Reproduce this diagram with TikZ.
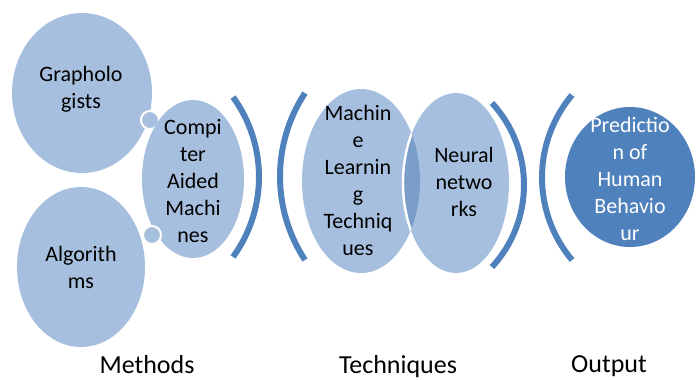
\documentclass[tikz,border=0pt]{standalone}
\usepackage{fontspec}
\setmainfont{Carlito}
\usetikzlibrary{shapes.geometric}
\definecolor{lightb}{RGB}{167,191,222}
\definecolor{lensb}{RGB}{122,158,201}
\definecolor{darkb}{RGB}{79,129,189}
\begin{document}
\begin{tikzpicture}[x=0.75pt,y=-0.75pt,
  blob/.style={ellipse,fill=lightb,inner sep=0pt,outer sep=0pt},
  txt/.style={align=center,inner sep=0pt,font=\fontsize{16.5}{20.25}\selectfont},
  knob/.style={circle,fill=lightb,draw=white,line width=1.5pt,minimum size=13.5pt,inner sep=0pt},
  brace/.style={draw=darkb,line width=4.5pt},
  captxt/.style={anchor=base,inner sep=0pt,font=\fontsize{19.5}{23}\selectfont}]
\useasboundingbox (0,0) rectangle (699,379);
% Methods
\node[blob,minimum width=105pt,minimum height=120pt] (gra) at (82,93) {};
\node[blob,minimum width=96pt,minimum height=120pt] (alg) at (81,267) {};
\node[knob] (k1) at (150,120) {};
\node[blob,minimum width=76.5pt,minimum height=118.5pt] (cam) at (193,179) {};
\node[knob] (k2) at (152,235) {};
\node[txt] (gra-t) at (81,89) {Grapholo\\gists};
\node[txt] (alg-t) at (81,267) {Algorith\\ms};
\node[txt] (cam-t) at (193,181) {Compi\\ter\\Aided\\Machi\\nes};
% brackets
\draw[brace] (123,177) ++(-36:136) arc[start angle=36,end angle=-36,radius=102pt];
\draw[brace] (432,176.5) ++(-146.7:152) arc[start angle=146.7,end angle=213.3,radius=114pt];
% Techniques
\node[blob,minimum width=88.5pt,minimum height=138pt] (ml) at (361,181) {};
\node[blob,minimum width=79.5pt,minimum height=135pt] (nn) at (456,183) {};
\begin{scope}
  \clip (ml.center) ellipse [x radius=44.25pt,y radius=69pt];
  \fill[lensb] (nn.center) ellipse [x radius=39.75pt,y radius=67.5pt];
\end{scope}
\begin{scope}
  \clip (ml.center) ellipse [x radius=44.25pt,y radius=69pt];
  \draw[white,line width=1.8pt] (nn.center) ellipse [x radius=39.75pt,y radius=67.5pt];
\end{scope}
\node[txt] (ml-t) at (358,180) {Machin\\e\\Learnin\\g\\Techniq\\ues};
\node[txt] (nn-t) at (464,182) {Neural\\netwo\\rks};
\draw[brace] (403,185) ++(-42.7:121) arc[start angle=42.7,end angle=-42.7,radius=90.75pt];
\draw[brace] (670.4,177.5) ++(-140:128.4) arc[start angle=140,end angle=220,radius=96.3pt];
% Output
\node[ellipse,fill=darkb,inner sep=0pt,minimum width=97.5pt,minimum height=105pt] (out) at (630,177) {};
\node[txt,text=white] (out-t) at (630,179) {Predictio\\n of\\Human\\Behavio\\ur};
% captions
\node[captxt] (c1) at (147,373) {Methods};
\node[captxt] (c2) at (398,373) {Techniques};
\node[captxt] (c3) at (609,372) {Output};
\end{tikzpicture}
\end{document}
